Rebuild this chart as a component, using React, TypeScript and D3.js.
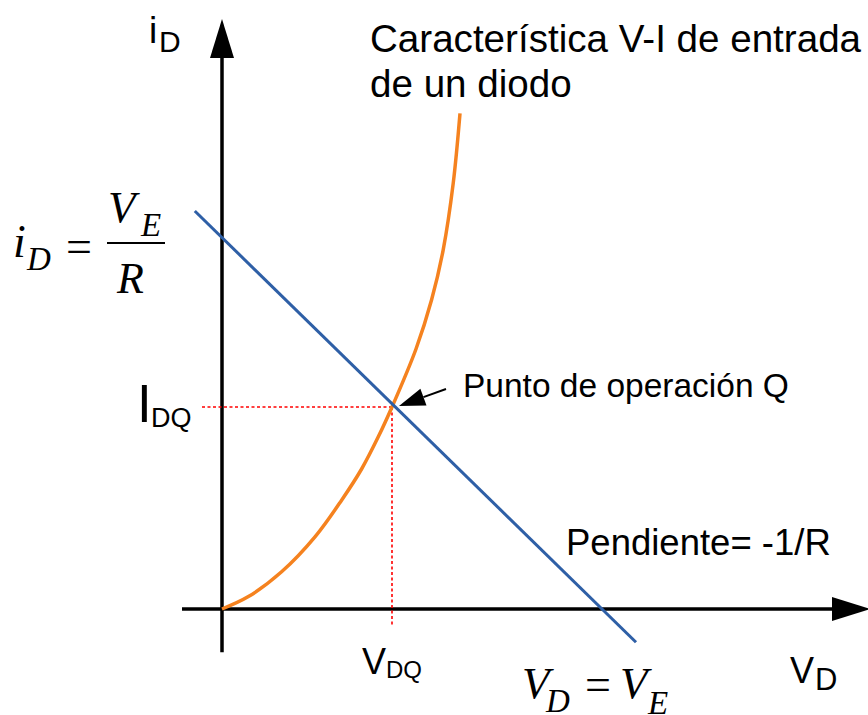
import React, { useEffect, useRef } from 'react';
import * as d3 from 'd3';

// diode V-I curve (arbitrary units)
const diodeV = [0, 0.66, 1.49, 2.33, 2.99, 3.49, 3.91, 4.25, 4.85, 5.24, 5.53, 5.78, 5.95];
const diodeI = [0, 0.31, 0.93, 1.81, 2.72, 3.5, 4.31, 5.05, 6.5, 7.73, 8.98, 10.64, 12.39];

// load line
const loadV = [-0.68, 10.35];
const loadI = [9.95, -0.83];

// operating point Q
const qV = 4.25;
const qI = 5.05;

// axis extents
const axisV = [-1, 16.2];
const axisI = [-1.08, 14.75];

const sans = '"Liberation Sans", Arial, sans-serif';
const serif = '"Liberation Serif", "Times New Roman", serif';

export default function App() {
  const ref = useRef<SVGSVGElement>(null);

  useEffect(() => {
    const svg = d3.select(ref.current);
    svg.selectAll('*').remove();

    var x = d3.scaleLinear().domain([0, 10]).range([222, 622]);
    var y = d3.scaleLinear().domain([0, 10]).range([609, 209]);

    // axes
    var xTip = x(axisV[1]);
    var yTip = y(axisI[1]);
    svg.append('line')
      .attr('x1', x(axisV[0])).attr('y1', y(0))
      .attr('x2', xTip - 20).attr('y2', y(0))
      .attr('stroke', '#000').attr('stroke-width', 3.5);
    svg.append('path')
      .attr('d', `M${xTip},${y(0)} L${xTip - 38},${y(0) - 12} L${xTip - 38},${y(0) + 12} Z`)
      .attr('fill', '#000');
    svg.append('line')
      .attr('x1', x(0)).attr('y1', y(axisI[0]))
      .attr('x2', x(0)).attr('y2', yTip + 20)
      .attr('stroke', '#000').attr('stroke-width', 3.5);
    svg.append('path')
      .attr('d', `M${x(0)},${yTip} L${x(0) - 12},${yTip + 39} L${x(0) + 12},${yTip + 39} Z`)
      .attr('fill', '#000');

    // dotted guides to Q
    svg.append('line')
      .attr('x1', x(-0.5)).attr('y1', y(qI))
      .attr('x2', x(qV)).attr('y2', y(qI))
      .attr('stroke', '#ff0000').attr('stroke-width', 1.6)
      .attr('stroke-dasharray', '3,2.5');
    svg.append('line')
      .attr('x1', x(qV)).attr('y1', y(qI))
      .attr('x2', x(qV)).attr('y2', y(-0.4))
      .attr('stroke', '#ff0000').attr('stroke-width', 1.6)
      .attr('stroke-dasharray', '3,2.5');

    // diode curve
    var pts = diodeV.map((v, k) => [v, diodeI[k]] as [number, number]);
    var line = d3.line<[number, number]>()
      .x(d => x(d[0])).y(d => y(d[1]))
      .curve(d3.curveCatmullRom.alpha(0.5));
    svg.append('path')
      .attr('d', line(pts))
      .attr('fill', 'none')
      .attr('stroke', '#F5821F')
      .attr('stroke-width', 3.5);

    // load line
    var lpts = loadV.map((v, k) => [v, loadI[k]] as [number, number]);
    svg.append('path')
      .attr('d', d3.line<[number, number]>().x(d => x(d[0])).y(d => y(d[1]))(lpts))
      .attr('fill', 'none')
      .attr('stroke', '#2E5FA6')
      .attr('stroke-width', 3);

    // arrow pointing at Q
    var ax = x(qV) + 7, ay = y(qI) - 1;
    var bx = ax + 47, by = ay - 17;
    var ang = Math.atan2(by - ay, bx - ax);
    var hl = 26, hw = 9;
    var hx = ax + hl * Math.cos(ang), hy = ay + hl * Math.sin(ang);
    svg.append('line')
      .attr('x1', hx).attr('y1', hy).attr('x2', bx).attr('y2', by)
      .attr('stroke', '#000').attr('stroke-width', 2);
    svg.append('path')
      .attr('d', `M${ax},${ay} L${hx - hw * Math.sin(ang)},${hy + hw * Math.cos(ang)} L${hx + hw * Math.sin(ang)},${hy - hw * Math.cos(ang)} Z`)
      .attr('fill', '#000');

    // plain labels
    var t = (px: number, py: number, s: string, size: number, fam = sans, italic = false) =>
      svg.append('text').attr('x', px).attr('y', py).text(s)
        .attr('font-size', size).attr('font-family', fam)
        .attr('font-style', italic ? 'italic' : 'normal').attr('fill', '#000');

    t(370, 52, 'Característica V-I de entrada', 38.6);
    t(370, 97, 'de un diodo', 38.6);
    t(463, 397, 'Punto de operación Q', 33.5);
    t(566, 555, 'Pendiente= -1/R', 36.5);

    // i_D axis label
    t(149, 43, 'i', 37);
    t(159, 52, 'D', 30);
    // v_D axis label
    t(790, 683, 'V', 36);
    t(815, 690, 'D', 31);
    // I_DQ
    t(137, 422, 'I', 53);
    t(151, 427, 'DQ', 27);
    // V_DQ
    t(362, 674, 'V', 36);
    t(386, 678, 'DQ', 24);

    // iD = VE / R
    t(13, 257, 'i', 46, serif, true);
    t(27, 270, 'D', 33, serif, true);
    t(66, 262, '=', 46, serif);
    svg.append('line')
      .attr('x1', 107).attr('y1', 243).attr('x2', 165).attr('y2', 243)
      .attr('stroke', '#000').attr('stroke-width', 2);
    t(108, 222, 'V', 45, serif, true);
    t(141, 236, 'E', 33, serif, true);
    t(117, 293, 'R', 44, serif, true);

    // VD = VE
    t(522, 698, 'V', 45, serif, true);
    t(546, 712, 'D', 33, serif, true);
    t(585, 700, '=', 46, serif);
    t(620, 698, 'V', 45, serif, true);
    t(648, 714, 'E', 33, serif, true);
  }, []);

  return (
    <svg ref={ref} width={868} height={715}
      style={{ position: 'absolute', left: 0, top: 0, background: '#fff' }} />
  );
}
